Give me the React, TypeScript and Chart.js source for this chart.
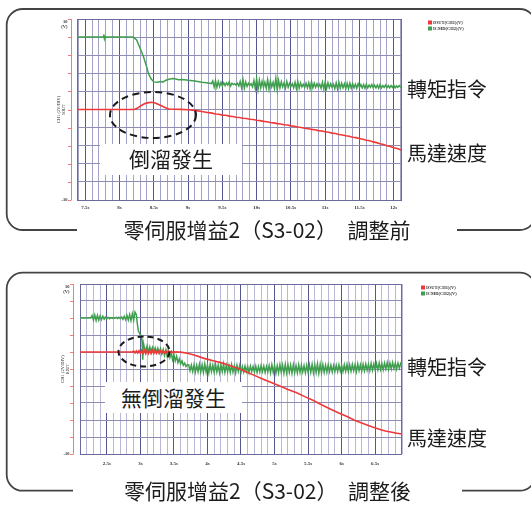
import React, { useEffect, useRef } from 'react';
import { Chart, registerables } from 'chart.js';

Chart.register(...registerables);

type Pt = [number, number];

// ---------- text ----------
const legendLabels = ['IOUT(CH1)(V)', 'ICMD(CH2)(V)'];
const yTitleLines = ['CH1 (2V/DIV)', 'IOUT'];
const yTopLabels = ['10', '(V)'];
const yBottomLabel = '-10';
const torqueLabel = '轉矩指令';
const speedLabel = '馬達速度';
const topNote = '倒溜發生';
const bottomNote = '無倒溜發生';
const topCaption = '零伺服增益2（S3-02）　調整前';
const bottomCaption = '零伺服增益2（S3-02）　調整後';

// ---------- axes ----------
const yMin = -10;
const yMax = 10;
const yStep = 2;
const xStep = 0.1;
const topXRange: Pt = [7.38, 12.12];
const bottomXRange: Pt = [2.1, 6.9];

// ---------- top chart (before tuning) ----------
const topTorqueKnots: Pt[] = [
  [7.38, 8.0], [7.76, 8.0], [7.77, 8.3], [7.78, 7.8], [7.79, 8.05], [7.8, 8.0], [8.2, 8.0],
  [8.25, 7.68], [8.3, 6.76], [8.35, 5.83], [8.4, 4.6], [8.42, 4.0], [8.46, 3.4], [8.5, 3.05],
  [8.55, 3.0], [8.6, 3.08], [8.63, 3.02], [8.67, 3.2], [8.72, 3.35], [8.78, 3.42], [8.82, 3.38],
  [8.86, 3.3], [8.92, 3.32], [9.0, 3.22], [9.1, 3.14], [9.2, 3.02], [9.3, 2.92],
];
const topTorqueNoiseStart = 9.34;
const topTorqueNoiseStep = 0.02;
const topTorqueNoise = [
  2.85, 3.15, 2.5, 3.2, 2.45, 3.1, 2.55, 3.0, 2.6, 2.95,
  2.65, 2.95, 2.7, 3.05, 2.6, 2.9, 2.75, 2.85, 2.7, 2.9,
  2.6, 3.1, 2.4, 3.3, 2.35, 3.05, 2.55, 2.9, 2.65, 2.85,
  2.5, 3.2, 2.3, 3.4, 2.2, 3.25, 2.4, 3.1, 2.45, 3.0,
  2.35, 3.3, 2.25, 3.15, 2.5, 3.0, 2.3, 3.45, 2.15, 3.2,
  2.4, 3.05, 2.5, 2.95, 2.35, 3.1, 2.45, 2.9, 2.55, 2.85,
  2.4, 3.0, 2.3, 3.1, 2.35, 2.95, 2.5, 2.8, 2.45, 2.9,
  2.4, 2.95, 2.3, 3.05, 2.4, 2.9, 2.45, 2.85, 2.5, 2.8,
  2.35, 3.0, 2.25, 3.05, 2.3, 2.95, 2.4, 2.85, 2.45, 2.8,
  2.3, 2.95, 2.25, 3.0, 2.35, 2.9, 2.4, 2.85, 2.3, 2.9,
  2.3, 2.9, 2.35, 2.85, 2.4, 2.8, 2.35, 2.85, 2.45, 2.75,
  2.4, 2.75, 2.35, 2.8, 2.4, 2.7, 2.45, 2.75, 2.4, 2.7,
  2.4, 2.7, 2.35, 2.75, 2.4, 2.65, 2.45, 2.7, 2.4, 2.65,
  2.4, 2.65, 2.45, 2.7, 2.4, 2.6, 2.45, 2.65, 2.5, 2.55,
];
const topSpeedPoints: Pt[] = [
  [7.38, 0], [8.22, 0], [8.27, 0.2], [8.32, 0.45], [8.37, 0.65], [8.42, 0.76], [8.47, 0.8],
  [8.52, 0.72], [8.57, 0.56], [8.62, 0.38], [8.67, 0.2], [8.72, 0.06], [8.8, 0.03], [8.9, 0.01],
  [9.0, -0.02], [9.1, -0.1], [9.2, -0.22], [9.3, -0.35],
  [9.35, -0.4], [9.4, -0.5], [9.45, -0.53], [9.5, -0.62], [9.55, -0.64], [9.6, -0.73],
  [9.65, -0.77], [9.7, -0.85], [9.75, -0.88], [9.8, -0.97], [9.85, -1.0], [9.9, -1.08],
  [9.95, -1.11], [10.0, -1.19], [10.05, -1.23], [10.1, -1.31], [10.15, -1.35], [10.2, -1.44],
  [10.25, -1.48], [10.3, -1.56], [10.35, -1.6], [10.4, -1.69], [10.45, -1.72], [10.5, -1.81],
  [10.55, -1.85], [10.6, -1.94], [10.65, -1.98], [10.7, -2.07], [10.75, -2.11], [10.8, -2.2],
  [10.85, -2.24], [10.9, -2.33], [10.95, -2.37], [11.0, -2.46], [11.05, -2.51], [11.1, -2.61],
  [11.15, -2.66], [11.2, -2.76], [11.25, -2.81], [11.3, -2.91], [11.35, -2.96], [11.4, -3.06],
  [11.45, -3.11], [11.5, -3.21], [11.55, -3.28], [11.6, -3.39], [11.65, -3.46], [11.7, -3.58],
  [11.75, -3.66], [11.8, -3.79], [11.85, -3.87], [11.9, -4.01], [11.95, -4.09], [12.0, -4.23],
  [12.05, -4.31], [12.1, -4.46], [12.12, -4.5],
];

// ---------- bottom chart (after tuning) ----------
const bottomTorqueStart: Pt[] = [[2.1, 6.0], [2.26, 6.0]];
const bottomTorqueNoiseAStart = 2.28;
const bottomTorqueNoiseA = [
  6.3, 5.75, 6.35, 5.7, 6.3, 5.75, 6.25, 5.8, 6.2, 5.85,
  6.1, 5.9, 6.08, 5.92, 6.05, 5.95, 6.05, 5.95, 6.06, 5.94,
  6.08, 5.92, 6.12, 5.85, 6.2, 5.8, 6.3, 5.75, 6.4, 5.7, 6.5, 5.75, 6.7,
];
const bottomTorqueDrop: Pt[] = [
  [2.94, 6.4], [2.955, 5.3], [2.97, 4.5], [2.99, 4.15], [3.01, 3.95], [3.025, 3.3],
  [3.035, 1.1], [3.045, 3.0], [3.05, 2.8],
];
const bottomTorqueNoiseBStart = 3.06;
const bottomTorqueNoiseB = [
  2.6, 2.0, 2.7, 1.95, 2.6, 2.05, 2.55, 2.0, 2.5, 1.95,
  2.45, 1.9, 2.4, 1.75, 2.3, 1.6, 2.25, 1.5, 2.1, 1.35,
  1.9, 1.1, 1.7, 0.95, 1.5, 0.75, 1.2, 0.6, 0.95, 0.45,
  0.7, 0.3, 0.5,
];
const bottomTorqueNoiseCStart = 3.72;
const bottomTorqueNoiseC = [
  0.5, -0.2, 0.45, -0.3, 0.5, -0.35, 0.45, -0.3, 0.55, -0.35,
  0.5, -0.4, 0.6, -0.35, 0.5, -0.45, 0.55, -0.3, 0.45, -0.4,
  0.55, -0.35, 0.45, -0.45, 0.5, -0.3, 0.6, -0.4, 0.45, -0.35,
  0.4, -0.4, 0.5, -0.35, 0.35, -0.45, 0.45, -0.3, 0.4, -0.4,
  0.3, -0.35, 0.35, -0.3, 0.3, -0.4, 0.35, -0.3, 0.3, -0.35,
  0.35, -0.4, 0.3, -0.35, 0.4, -0.3, 0.35, -0.4, 0.3, -0.35,
  0.4, -0.45, 0.5, -0.4, 0.45, -0.5, 0.4, -0.45, 0.5, -0.4,
  0.45, -0.5, 0.55, -0.45, 0.5, -0.4, 0.45, -0.5, 0.5, -0.45,
  0.4, -0.45, 0.5, -0.4, 0.45, -0.35, 0.4, -0.45, 0.45, -0.4,
  0.5, -0.4, 0.55, -0.45, 0.5, -0.4, 0.6, -0.5, 0.55, -0.45,
  0.5, -0.4, 0.45, -0.35, 0.5, -0.3, 0.45, -0.35, 0.4, -0.3,
  0.45, -0.3, 0.5, -0.25, 0.45, -0.3, 0.5, -0.25, 0.55, -0.3,
  0.5, -0.25, 0.55, -0.2, 0.5, -0.3, 0.6, -0.2, 0.5, -0.25,
  0.55, -0.2, 0.6, -0.15, 0.55, -0.2, 0.65, -0.15, 0.6, -0.1,
  0.65, -0.1, 0.7, -0.05, 0.65, -0.1, 0.7, 0.0, 0.75, -0.05,
  0.7, 0.0, 0.75, 0.05, 0.7, 0.0, 0.7, 0.1, 0.65, 0.35,
];
const bottomNoiseStep = 0.02;
const bottomSpeedStart: Pt[] = [[2.1, 2.0], [2.88, 2.0]];
const bottomSpeedJitterStart = 2.9;
const bottomSpeedJitter = [
  2.1, 1.9, 2.12, 1.88, 2.15, 1.85, 2.18, 1.83, 2.2, 1.8,
  2.2, 1.82, 2.18, 1.8, 2.2, 1.82, 2.18, 1.84, 2.16, 1.85,
  2.15, 1.86, 2.14, 1.88, 2.12, 1.9, 2.1, 1.92, 2.08, 1.95,
  2.05, 1.97, 2.03, 2.0,
];
const bottomSpeedFall: Pt[] = [
  [3.6, 1.98], [3.7, 1.85], [3.8, 1.65], [3.95, 1.25], [4.1, 0.95], [4.2, 0.75], [4.3, 0.5],
  [4.45, 0.1], [4.6, -0.4], [4.7, -0.75], [4.83, -1.2], [4.95, -1.6], [5.08, -2.0], [5.2, -2.4],
  [5.33, -2.8], [5.45, -3.25], [5.58, -3.7], [5.7, -4.2], [5.83, -4.7], [5.95, -5.15],
  [6.08, -5.6], [6.2, -6.05], [6.33, -6.45], [6.45, -6.8], [6.55, -7.05], [6.65, -7.3],
  [6.75, -7.45], [6.82, -7.55], [6.9, -7.65],
];

// ---------- styles ----------
const RED = '#f03838';
const GREEN = '#3f9f4f';
const AXIS_RED = '#f07c7c';
const MAJOR_GRID = '#56568f';
const H_GRID = '#8e8eb4';
const FRAME = '#6a6a9c';
const CJK = "'Noto Sans CJK TC', 'Noto Sans CJK SC', 'Noto Sans', sans-serif";

const fromPairs = (pts: Pt[]) => pts.map(([x, y]) => ({ x, y }));
const fromSeq = (start: number, step: number, vals: number[]) =>
  vals.map((y, i) => ({ x: Math.round((start + i * step) * 10000) / 10000, y }));

const isMajor = (v: number) => Math.abs(v * 2 - Math.round(v * 2)) < 1e-6;

interface ChartProps {
  box: { left: number; top: number; width: number; height: number };
  area: { l: number; t: number; r: number; b: number };
  xRange: Pt;
  speed: { x: number; y: number }[];
  torque: { x: number; y: number }[];
  labelPad: number;
  axisGap: number;
  titleGap: number;
  legendDx: number;
  minorGrid: string;
}

function ScopeChart(p: ChartProps) {
  const ref = useRef<HTMLCanvasElement | null>(null);
  useEffect(() => {
    if (!ref.current) return;
    const decor = {
      id: 'decor',
      beforeDatasetsDraw(chart: any) {
        const { ctx, chartArea: a } = chart;
        ctx.save();
        ctx.strokeStyle = FRAME;
        ctx.lineWidth = 1;
        ctx.strokeRect(Math.round(a.left) + 0.5, Math.round(a.top) + 0.5,
          Math.round(a.right - a.left) - 1, Math.round(a.bottom - a.top));
        ctx.restore();
      },
      afterDraw(chart: any) {
        const { ctx, chartArea: a } = chart;
        const ys = chart.scales.y;
        const ax = Math.round(a.left - p.axisGap) + 0.5;
        ctx.save();
        ctx.strokeStyle = AXIS_RED;
        ctx.lineWidth = 1;
        ctx.beginPath();
        ctx.moveTo(ax, a.top);
        ctx.lineTo(ax, a.bottom);
        ys.ticks.forEach((t: any) => {
          const y = Math.round(ys.getPixelForValue(t.value)) + 0.5;
          ctx.moveTo(ax - 3.5, y);
          ctx.lineTo(ax, y);
        });
        ctx.stroke();
        ctx.fillStyle = '#333';
        ctx.font = 'bold 4.5px "Liberation Serif"';
        ctx.textAlign = 'right';
        ctx.textBaseline = 'middle';
        ctx.fillText(yTopLabels[0], ax - 4, a.top + 3);
        ctx.fillText(yTopLabels[1], ax - 4, a.top + 7.5);
        ctx.fillText(yBottomLabel, ax - 4, a.bottom);
        ctx.save();
        ctx.translate(ax - p.titleGap, (a.top + a.bottom) / 2);
        ctx.rotate(-Math.PI / 2);
        ctx.textAlign = 'center';
        ctx.font = '4.5px "Liberation Serif"';
        ctx.fillText(yTitleLines[0], 0, 0);
        ctx.fillText(yTitleLines[1], 0, 5);
        ctx.restore();
        const lx = Math.round(a.right + p.legendDx);
        const ly = a.top + 1.5;
        [RED, GREEN].forEach((c, i) => {
          ctx.fillStyle = c;
          ctx.fillRect(lx, ly + i * 6, 4, 4);
          ctx.fillStyle = '#333';
          ctx.font = 'bold 4.5px "Liberation Serif"';
          ctx.textAlign = 'left';
          ctx.textBaseline = 'middle';
          ctx.fillText(legendLabels[i], lx + 5, ly + i * 6 + 2);
        });
        ctx.restore();
      },
    };
    const chart = new Chart(ref.current, {
      type: 'line',
      data: {
        datasets: [
          { label: legendLabels[0], data: p.speed, borderColor: RED, borderWidth: 1.6, pointRadius: 0, tension: 0 },
          { label: legendLabels[1], data: p.torque, borderColor: GREEN, borderWidth: 1.5, pointRadius: 0, tension: 0 },
        ],
      },
      options: {
        animation: false,
        responsive: false,
        devicePixelRatio: 1,
        parsing: false as any,
        layout: {
          padding: {
            left: 0,
            top: p.area.t - p.box.top,
            right: p.box.left + p.box.width - p.area.r,
            bottom: 0,
          },
        },
        plugins: { legend: { display: false }, tooltip: { enabled: false } },
        scales: {
          x: {
            type: 'linear',
            min: p.xRange[0],
            max: p.xRange[1],
            afterFit: (s: any) => { s.height = p.box.top + p.box.height - p.area.b; },
            border: { display: false },
            grid: {
              drawTicks: false,
              lineWidth: 1,
              color: (ctx: any) => (ctx.tick && isMajor(ctx.tick.value) ? MAJOR_GRID : p.minorGrid),
            },
            ticks: {
              stepSize: xStep,
              includeBounds: false,
              autoSkip: false,
              maxRotation: 0,
              minRotation: 0,
              padding: p.labelPad,
              color: '#333',
              font: { family: 'Liberation Serif', size: 5, weight: 'bold' },
              callback: (v: any) => (isMajor(Number(v)) ? `${Math.round(Number(v) * 10) / 10}s` : ''),
            },
          },
          y: {
            type: 'linear',
            min: yMin,
            max: yMax,
            afterFit: (s: any) => { s.width = p.area.l - p.box.left; },
            border: { display: false },
            grid: { drawTicks: false, color: H_GRID, lineWidth: 1 },
            ticks: { display: false, stepSize: yStep },
          },
        },
      } as any,
      plugins: [decor],
    });
    return () => chart.destroy();
  }, []);
  return (
    <canvas
      ref={ref}
      width={p.box.width}
      height={p.box.height}
      style={{ position: 'absolute', left: p.box.left, top: p.box.top, width: p.box.width, height: p.box.height }}
    />
  );
}

const topTorque = [...fromPairs(topTorqueKnots), ...fromSeq(topTorqueNoiseStart, topTorqueNoiseStep, topTorqueNoise)];
const topSpeed = fromPairs(topSpeedPoints);
const bottomTorque = [
  ...fromPairs(bottomTorqueStart),
  ...fromSeq(bottomTorqueNoiseAStart, bottomNoiseStep, bottomTorqueNoiseA),
  ...fromPairs(bottomTorqueDrop),
  ...fromSeq(bottomTorqueNoiseBStart, bottomNoiseStep, bottomTorqueNoiseB),
  ...fromSeq(bottomTorqueNoiseCStart, bottomNoiseStep, bottomTorqueNoiseC),
];
const bottomSpeed = [
  ...fromPairs(bottomSpeedStart),
  ...fromSeq(bottomSpeedJitterStart, bottomNoiseStep, bottomSpeedJitter),
  ...fromPairs(bottomSpeedFall),
];

const labelStyle = (left: number, cy: number, size: number): React.CSSProperties => ({
  position: 'absolute', left, top: cy - 14, height: 28, lineHeight: '28px',
  fontFamily: CJK, fontSize: size, color: '#1c1c1c', whiteSpace: 'nowrap',
});

export default function App() {
  return (
    <div style={{ position: 'absolute', left: 0, top: 0, width: 531, height: 507, overflow: 'hidden', background: '#fff' }}>
      <svg width={531} height={507} style={{ position: 'absolute', left: 0, top: 0 }}>
        <rect x={6.7} y={9} width={529} height={221} rx={16} fill="none" stroke="#444" strokeWidth={1.8} />
        <rect x={6.7} y={272.7} width={529} height={218} rx={16} fill="none" stroke="#444" strokeWidth={1.8} />
      </svg>

      <ScopeChart
        box={{ left: 40, top: 10, width: 450, height: 215 }}
        area={{ l: 77, t: 19, r: 402, b: 200 }}
        xRange={topXRange}
        speed={topSpeed}
        torque={topTorque}
        labelPad={5}
        axisGap={6}
        titleGap={12.5}
        legendDx={26}
        minorGrid="#a2a2c6"
      />
      <ScopeChart
        box={{ left: 40, top: 275, width: 450, height: 200 }}
        area={{ l: 80, t: 284, r: 402, b: 454 }}
        xRange={bottomXRange}
        speed={bottomSpeed}
        torque={bottomTorque}
        labelPad={7}
        axisGap={7}
        titleGap={11}
        legendDx={19}
        minorGrid="#b8b8d6"
      />

      <div style={{ position: 'absolute', left: 100, top: 144, width: 142, height: 31, background: '#fff',
        fontFamily: CJK, fontSize: 21, lineHeight: '29px', textAlign: 'center', color: '#1c1c1c' }}>{topNote}</div>
      <div style={{ position: 'absolute', left: 105, top: 382, width: 137, height: 31, background: '#fff',
        fontFamily: CJK, fontSize: 21, lineHeight: '31px', textAlign: 'center', color: '#1c1c1c' }}>{bottomNote}</div>

      <svg width={531} height={507} style={{ position: 'absolute', left: 0, top: 0, pointerEvents: 'none' }}>
        <ellipse cx={153} cy={115} rx={43} ry={23} fill="none" stroke="#1a1a1a" strokeWidth={2} strokeDasharray="7 4.5" />
        <ellipse cx={144} cy={351.5} rx={25.5} ry={15} fill="none" stroke="#1a1a1a" strokeWidth={2} strokeDasharray="6 4" />
      </svg>

      <div style={labelStyle(407, 89, 20)}>{torqueLabel}</div>
      <div style={labelStyle(407, 153, 20)}>{speedLabel}</div>
      <div style={labelStyle(407, 366.5, 20)}>{torqueLabel}</div>
      <div style={labelStyle(407, 438, 20)}>{speedLabel}</div>

      <div style={{ position: 'absolute', left: 77, top: 217, width: 380, height: 25, background: '#fff',
        fontFamily: CJK, fontSize: 21, lineHeight: '25px', textAlign: 'center', color: '#1c1c1c', whiteSpace: 'pre' }}>{topCaption}</div>
      <div style={{ position: 'absolute', left: 73, top: 478, width: 389, height: 25, background: '#fff',
        fontFamily: CJK, fontSize: 21, lineHeight: '25px', textAlign: 'center', color: '#1c1c1c', whiteSpace: 'pre' }}>{bottomCaption}</div>
    </div>
  );
}
